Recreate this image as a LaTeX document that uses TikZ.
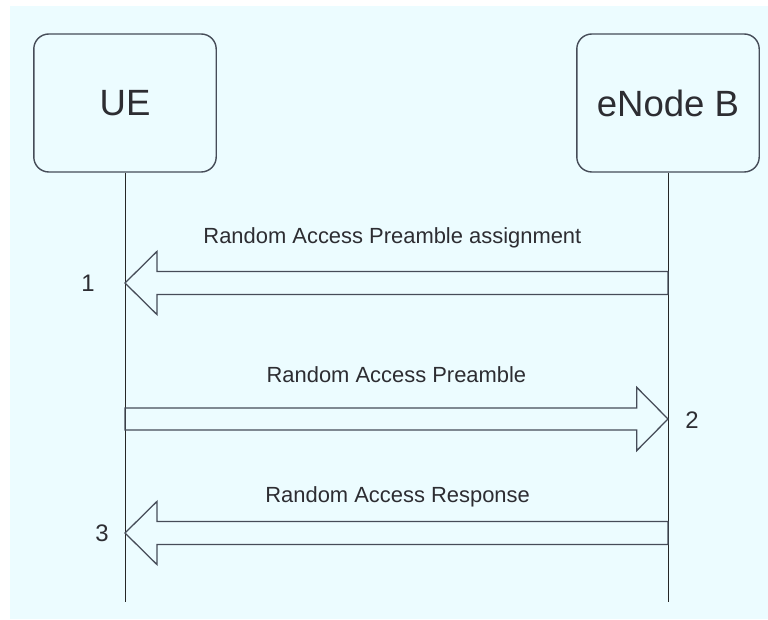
\documentclass[tikz,border=0pt]{standalone}
\usepackage{fontspec}
\setmainfont{Liberation Sans}
\usepackage{tikz}
\usetikzlibrary{calc}
\usepackage{xcolor}

\definecolor{bgcyan}{RGB}{236,252,255}
\definecolor{linegray}{RGB}{70,76,88}
\definecolor{textgray}{RGB}{45,45,50}

\tikzset{
    entity/.style={draw=linegray, line width=1pt, rounded corners=0.375cm,
        minimum width=4.56cm, minimum height=3.45cm, text=textgray,
        font=\fontsize{26}{30}\selectfont},
    lifeline/.style={draw=black!85, line width=0.7pt},
    blockarrow/.style={draw=linegray, line width=0.9pt, line join=miter},
    msg/.style={text=textgray, font=\fontsize{15.6}{18}\selectfont},
    stepnum/.style={text=textgray, font=\fontsize{17}{20}\selectfont}
}

\begin{document}
\begin{tikzpicture}[scale=1]
        \useasboundingbox (0,0) rectangle (19.2,15.475);

        % Background
        \fill[bgcyan] (0.25,0) rectangle (19.2,15.325);

        % Entities
        \node[entity] (ue) at (3.125,12.9) {UE};
        \node[entity] (enb) at (16.7,12.9) {eNode B};

        % Lifelines
        \coordinate (ueend) at (3.125,0.425);
        \coordinate (enbend) at (16.7,0.425);
        \draw[lifeline] (ue.south) -- (ueend);
        \draw[lifeline] (enb.south) -- (enbend);

        % Message points
        \coordinate (u1) at (3.125,8.4);
        \coordinate (e1) at (16.7,8.4);
        \coordinate (u2) at (3.125,5.0);
        \coordinate (e2) at (16.7,5.0);
        \coordinate (u3) at (3.125,2.15);
        \coordinate (e3) at (16.7,2.15);

        % Step 1: eNode B -> UE
        \draw[blockarrow] (u1) -- ($(u1)+(0.8,0.79)$) -- ($(u1)+(0.8,0.29)$)
            -- ($(e1)+(0,0.29)$) -- ($(e1)+(0,-0.29)$)
            -- ($(u1)+(0.8,-0.29)$) -- ($(u1)+(0.8,-0.79)$) -- cycle;

        % Step 2: UE -> eNode B
        \draw[blockarrow] (e2) -- ($(e2)+(-0.78,0.79)$) -- ($(e2)+(-0.78,0.275)$)
            -- ($(u2)+(0,0.275)$) -- ($(u2)+(0,-0.275)$)
            -- ($(e2)+(-0.78,-0.275)$) -- ($(e2)+(-0.78,-0.79)$) -- cycle;

        % Step 3: eNode B -> UE
        \draw[blockarrow] (u3) -- ($(u3)+(0.8,0.79)$) -- ($(u3)+(0.8,0.29)$)
            -- ($(e3)+(0,0.29)$) -- ($(e3)+(0,-0.29)$)
            -- ($(u3)+(0.8,-0.29)$) -- ($(u3)+(0.8,-0.79)$) -- cycle;

        % Labels
        \node[msg] (m1) at (9.81,9.525) {Random Access Preamble assignment};
        \node[msg] (m2) at (9.91,6.1) {Random Access Preamble};
        \node[msg] (m3) at (9.94,3.05) {Random Access Response};

        % Step numbers
        \node[stepnum] (n1) at (2.2,8.4) {1};
        \node[stepnum] (n2) at (17.3,4.975) {2};
        \node[stepnum] (n3) at (2.55,2.15) {3};
    \end{tikzpicture}
\end{document}
